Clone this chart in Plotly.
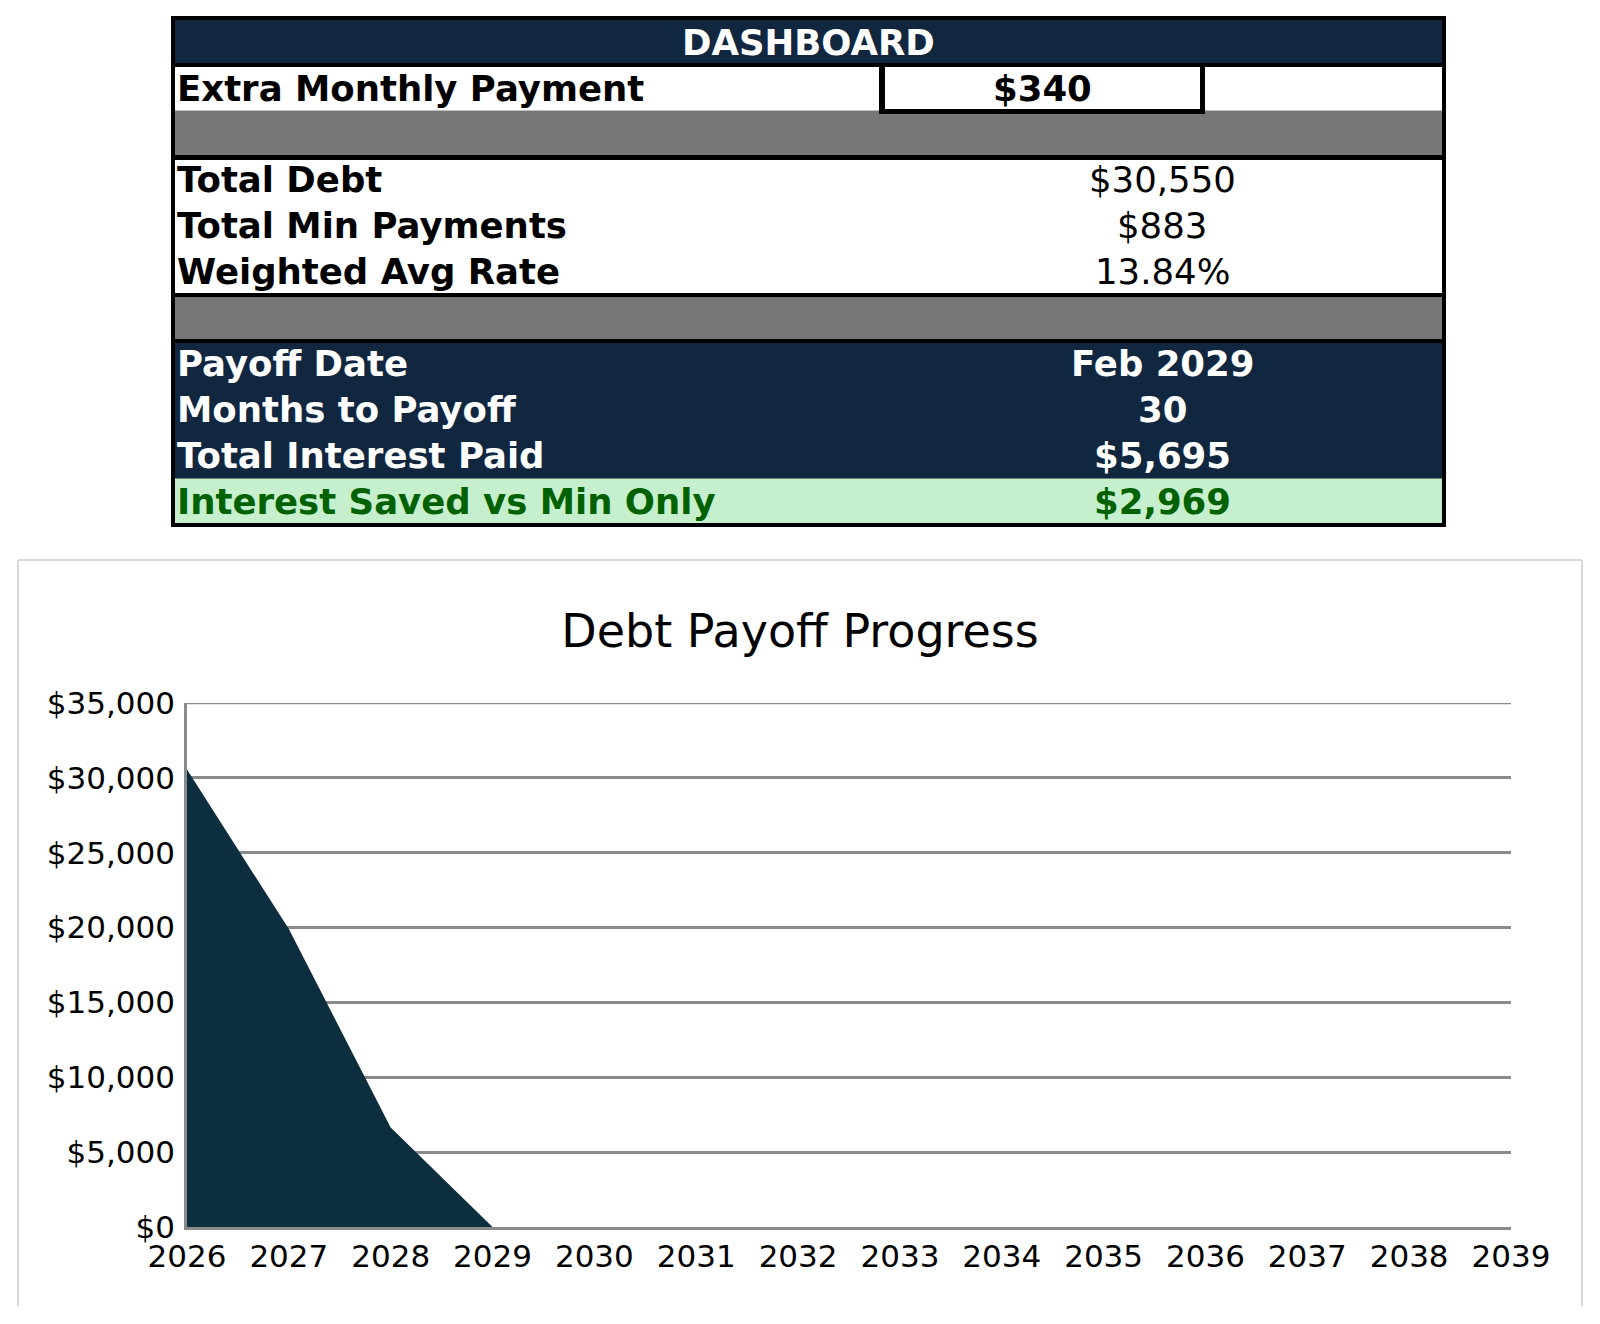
import plotly.graph_objects as go

# dashboard values
header_title = "DASHBOARD"
extra_label = "Extra Monthly Payment"
extra_value = "$340"
summary_labels = ["Total Debt", "Total Min Payments", "Weighted Avg Rate"]
summary_values = ["$30,550", "$883", "13.84%"]
result_labels = ["Payoff Date", "Months to Payoff", "Total Interest Paid"]
result_values = ["Feb 2029", "30", "$5,695"]
saved_label = "Interest Saved vs Min Only"
saved_value = "$2,969"

# remaining balance by year
years = [2026, 2027, 2028, 2029, 2030, 2031, 2032, 2033, 2034, 2035, 2036, 2037, 2038, 2039]
balance = [30550, 19900, 6650, 0, 0, 0, 0, 0, 0, 0, 0, 0, 0, 0]
y_max = 35000

W, H = 1600, 1324
NAVY = "#10273f"
GRAY = "#777777"
GRID = "#8a8a8a"
FONT = "DejaVu Sans"


def px(x):
    return x / W


def py(y):
    return 1 - y / H


shapes = []
annotations = []


def rect(x0, y0, x1, y1, fill):
    shapes.append(dict(type="rect", xref="paper", yref="paper",
                       x0=px(x0), x1=px(x1), y0=py(y1), y1=py(y0),
                       fillcolor=fill, line=dict(width=0), layer="above"))


def text(x, y, s, color="black", bold=False, anchor="left", size=35.5):
    if bold:
        s = "<b>" + s + "</b>"
    annotations.append(dict(xref="paper", yref="paper", x=px(x), y=py(y),
                            text=s, showarrow=False, xanchor=anchor, yanchor="middle",
                            font=dict(family=FONT, size=size, color=color)))


# table frame and row bands
L, R = 175, 1442
rect(171, 16, 1446, 527, "black")
rect(L, 20, R, 63, NAVY)
rect(L, 67, R, 110, "white")
rect(L, 110, R, 111, "#bfbfbf")
rect(L, 111, R, 155, GRAY)
rect(L, 160, R, 293, "white")
rect(L, 297, R, 339, GRAY)
rect(L, 343, R, 478.5, NAVY)
rect(L, 478.5, R, 523, "#c6efce")
# input box
rect(879, 63, 1205, 114, "black")
rect(885, 67, 1200, 109, "white")

label_x = 175
value_x = 1162
text((171 + 1446) / 2, 42, header_title, "white", True, "center")
text(label_x, 88, extra_label, bold=True)
text(1042, 88, extra_value, bold=True, anchor="center")

for i, (lab, val) in enumerate(zip(summary_labels, summary_values)):
    y = 180 + i * 45.5
    text(label_x, y, lab, bold=True)
    text(value_x, y, val, anchor="center")

for i, (lab, val) in enumerate(zip(result_labels, result_values)):
    y = 363 + i * 46
    text(label_x, y, lab, "white", True)
    text(value_x, y, val, "white", True, "center")

text(label_x, 501, saved_label, "#006100", True)
text(value_x, 501, saved_value, "#006100", True, "center")

# chart card border (left, top, right)
card = dict(x0=18, x1=1582, y0=560, y1=1306)
for (xa, ya, xb, yb) in [(card["x0"], card["y1"], card["x0"], card["y0"]),
                         (card["x0"], card["y0"], card["x1"], card["y0"]),
                         (card["x1"], card["y0"], card["x1"], card["y1"])]:
    shapes.append(dict(type="line", xref="paper", yref="paper",
                       x0=px(xa), y0=py(ya), x1=px(xb), y1=py(yb),
                       line=dict(color="#d9d9d9", width=2)))

# top gridline (plotly skips the one on the range edge)
shapes.append(dict(type="line", xref="x domain", yref="y", x0=0, x1=1,
                   y0=y_max, y1=y_max, line=dict(color=GRID, width=2.5), layer="below"))

fig = go.Figure()
fig.add_trace(go.Scatter(
    x=years, y=balance, mode="lines", fill="tozeroy",
    fillcolor="#0d2e3f", line=dict(width=0, color="#0d2e3f"),
    hoverinfo="x+y", showlegend=False
))

fig.update_layout(
    width=W, height=H,
    margin=dict(l=0, r=0, t=0, b=0, autoexpand=False),
    paper_bgcolor="white", plot_bgcolor="white",
    font=dict(family=FONT, size=31, color="black"),
    title=dict(text="Debt Payoff Progress", x=0.5, xanchor="center",
               y=py(631), yanchor="middle", font=dict(family=FONT, size=46, color="black")),
    xaxis=dict(domain=[px(187), px(1511)], range=[years[0], years[-1]], dtick=1, tick0=years[0],
               showgrid=False, zeroline=False, showline=True, linecolor=GRID,
               linewidth=2.5, ticks="", ticklabelstandoff=0, automargin=False, fixedrange=True),
    yaxis=dict(domain=[py(1227), py(703)], range=[0, y_max], dtick=5000, tick0=0,
               tickprefix="$", tickformat=",d", showgrid=True, gridcolor=GRID,
               gridwidth=2.5, zeroline=False, showline=True, linecolor=GRID,
               linewidth=2.5, ticks="", ticklabelstandoff=3, automargin=False, fixedrange=True),
    shapes=shapes,
    annotations=annotations,
)

fig.write_html("out.html", config={"displayModeBar": False},
               post_script="document.body.style.margin='0';")
